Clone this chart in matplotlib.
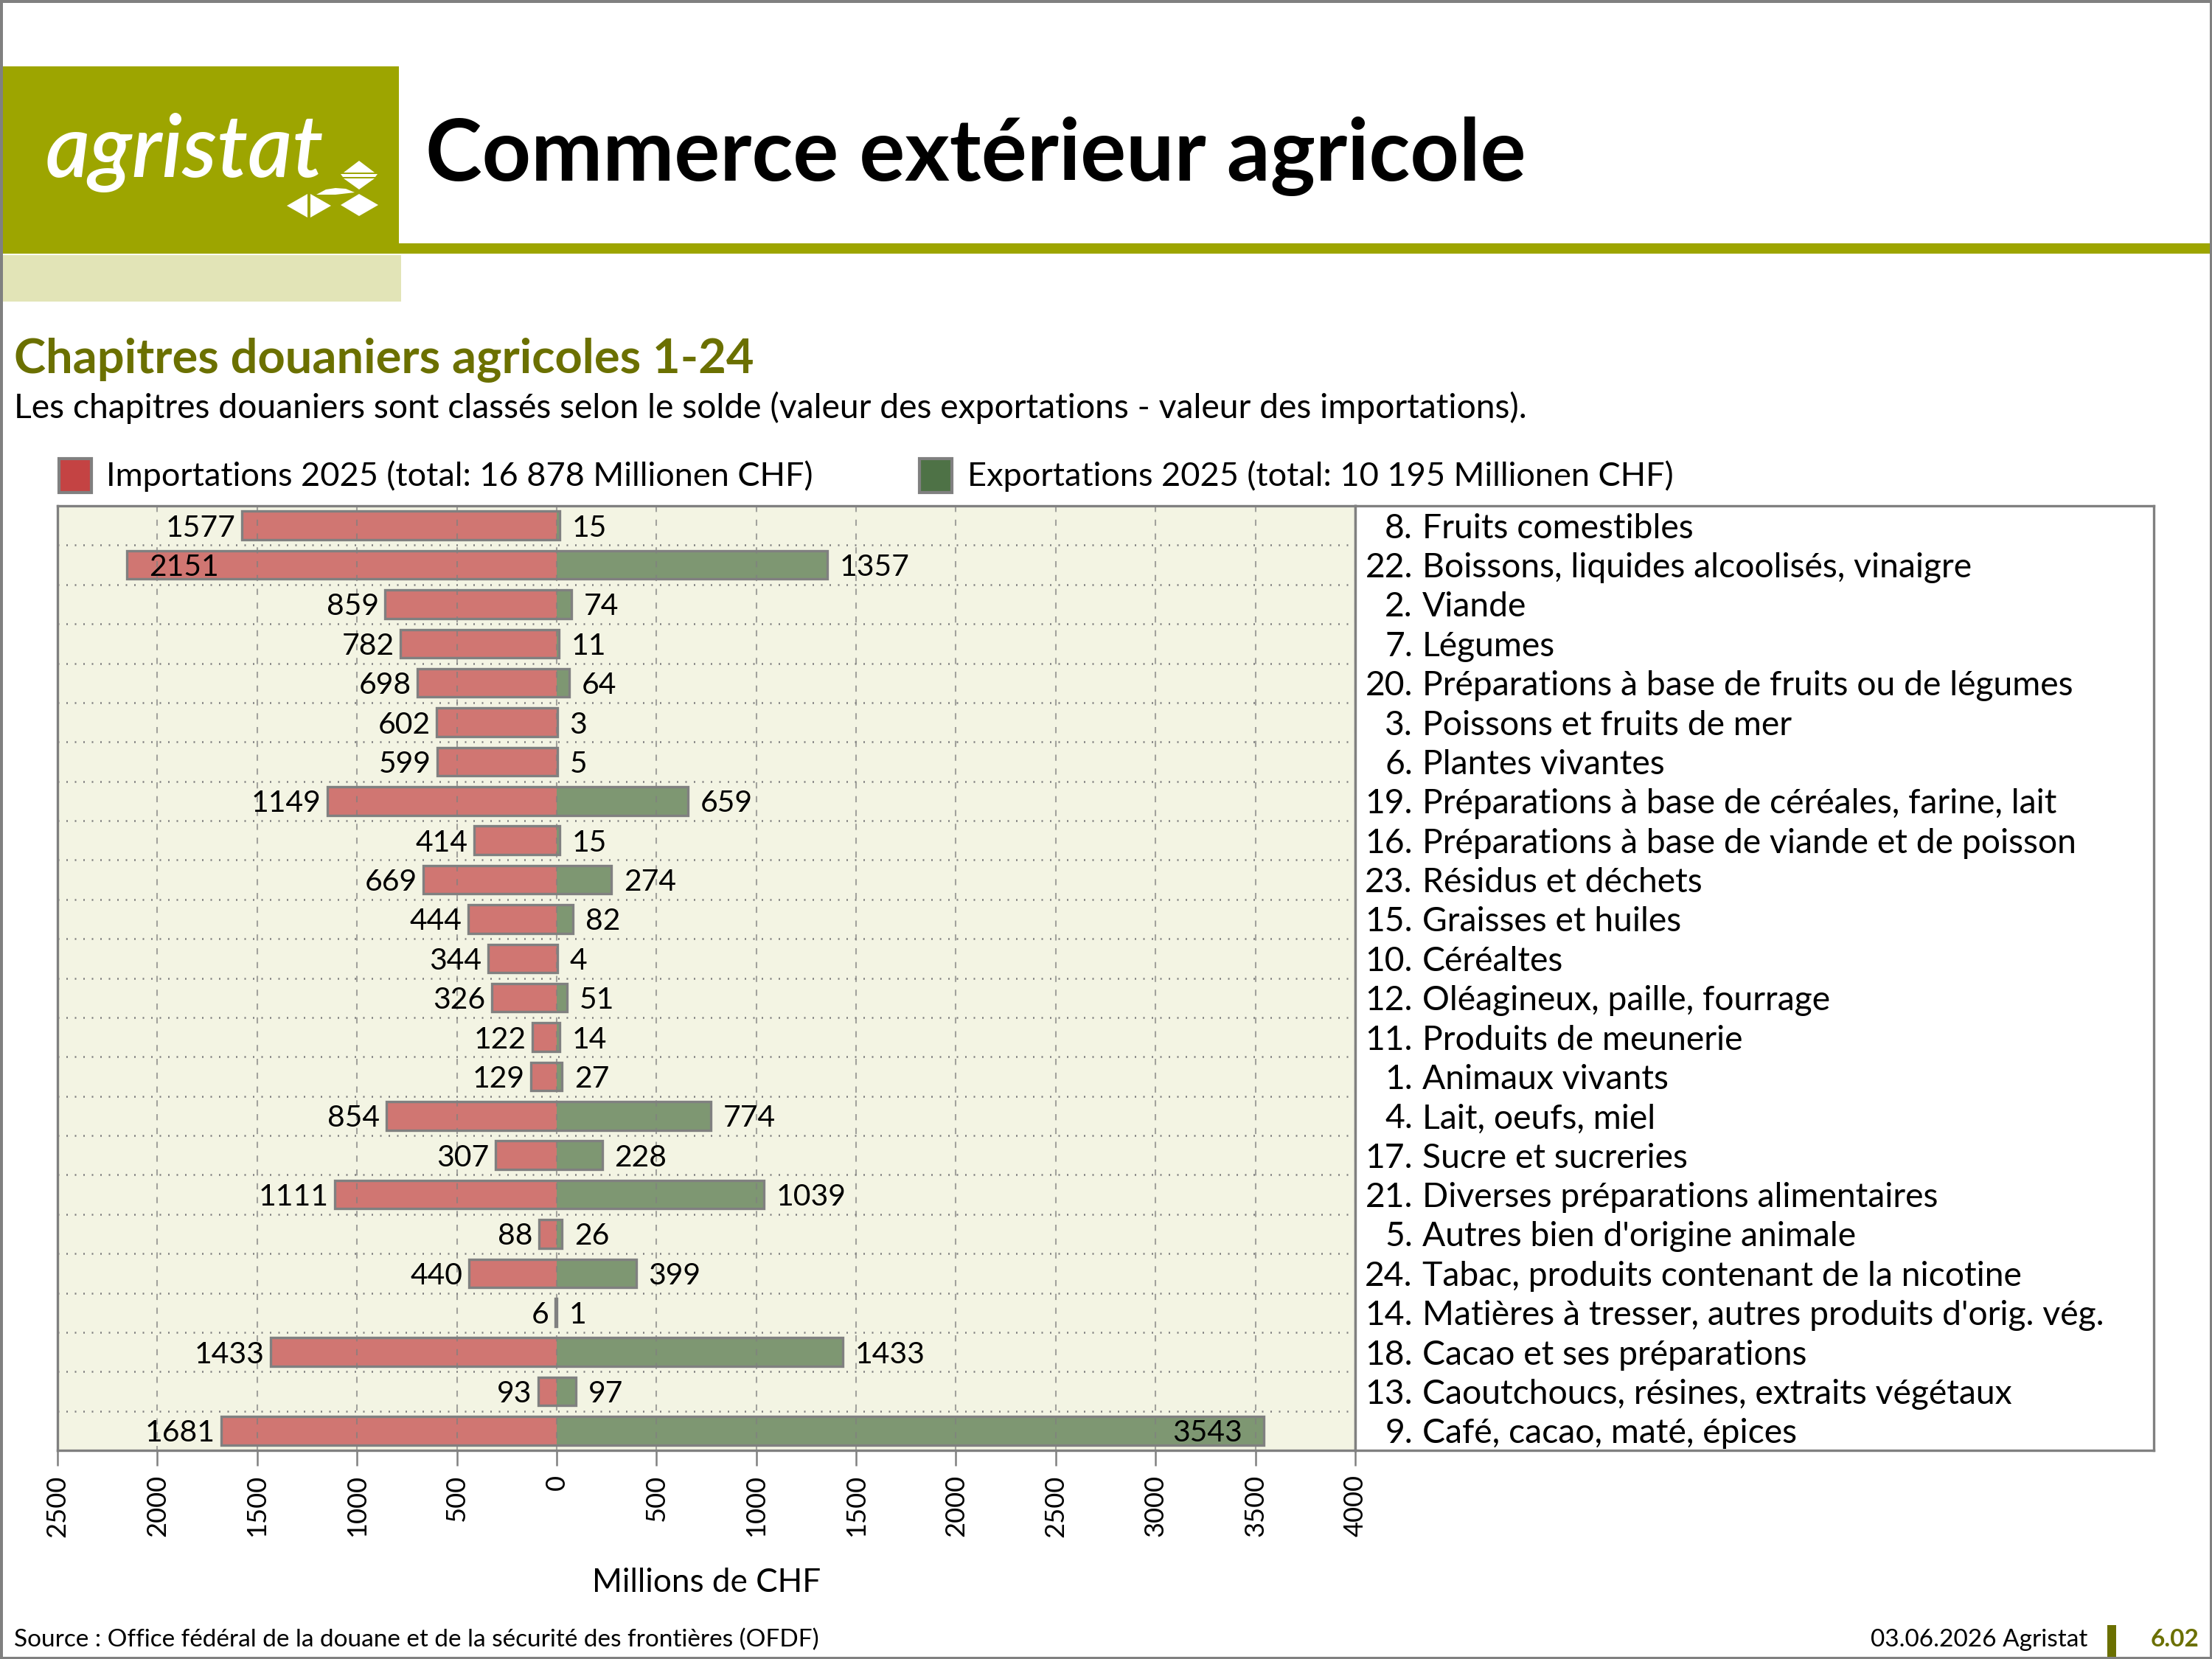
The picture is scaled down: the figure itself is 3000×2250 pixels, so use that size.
import numpy as np
import matplotlib
matplotlib.use("Agg")
import matplotlib.pyplot as plt
from matplotlib.patches import Rectangle, Polygon

plt.rcParams['font.family'] = ['Lato', 'DejaVu Sans']

# chapitres douaniers, classés selon le solde (du haut vers le bas)
chapitres = ["8", "22", "2", "7", "20", "3", "6", "19", "16", "23", "15", "10",
             "12", "11", "1", "4", "17", "21", "5", "24", "14", "18", "13", "9"]
noms = ["Fruits comestibles",
        "Boissons, liquides alcoolisés, vinaigre",
        "Viande",
        "Légumes",
        "Préparations à base de fruits ou de légumes",
        "Poissons et fruits de mer",
        "Plantes vivantes",
        "Préparations à base de céréales, farine, lait",
        "Préparations à base de viande et de poisson",
        "Résidus et déchets",
        "Graisses et huiles",
        "Céréaltes",
        "Oléagineux, paille, fourrage",
        "Produits de meunerie",
        "Animaux vivants",
        "Lait, oeufs, miel",
        "Sucre et sucreries",
        "Diverses préparations alimentaires",
        "Autres bien d'origine animale",
        "Tabac, produits contenant de la nicotine",
        "Matières à tresser, autres produits d'orig. vég.",
        "Cacao et ses préparations",
        "Caoutchoucs, résines, extraits végétaux",
        "Café, cacao, maté, épices"]
importations = [1577, 2151, 859, 782, 698, 602, 599, 1149, 414, 669, 444, 344,
                326, 122, 129, 854, 307, 1111, 88, 440, 6, 1433, 93, 1681]
exportations = [15, 1357, 74, 11, 64, 3, 5, 659, 15, 274, 82, 4,
                51, 14, 27, 774, 228, 1039, 26, 399, 1, 1433, 97, 3543]

x_ticks = list(range(-2500, 4001, 500))
x_ticklabels = [str(abs(v)) for v in x_ticks]

titre = "Commerce extérieur agricole"
sous_titre = "Chapitres douaniers agricoles 1-24"
description = ("Les chapitres douaniers sont classés selon le solde "
               "(valeur des exportations - valeur des importations).")
leg_imp = "Importations 2025 (total: 16 878 Millionen CHF)"
leg_exp = "Exportations 2025 (total: 10 195 Millionen CHF)"
source = "Source : Office fédéral de la douane et de la sécurité des frontières (OFDF)"

olive = '#9DA500'
olive_fonce = '#6B7000'
olive_clair = '#E2E4B7'
gris = '#808080'
rouge = '#C44343'
vert = '#4E7246'
rouge_barre = '#D07672'
vert_barre = '#7E9772'
creme = '#F3F4E3'

W, H = 3000, 2250
fig = plt.figure(figsize=(10, 7.5), dpi=300)

# fond / en-tete en coordonnees pixel
deco = fig.add_axes([0, 0, 1, 1])
deco.set_xlim(0, W)
deco.set_ylim(H, 0)
deco.axis('off')

deco.add_patch(Rectangle((0, 90), 541, 254, color=olive, lw=0))
deco.add_patch(Rectangle((541, 330), W - 541, 14, color=olive, lw=0))
deco.add_patch(Rectangle((0, 346), 544, 63, color=olive_clair, lw=0))
deco.text(62, 240, "agristat", color='white', fontsize=28, style='italic',
          fontweight='semibold', ha='left', va='baseline')
# petit logo
formes = [
    [(466, 234), (487, 218), (508, 234)],
    [(462, 236), (512, 236), (509, 240), (465, 240)],
    [(466, 242), (508, 242), (487, 257)],
    [(389, 279), (417, 263), (417, 295)],
    [(421, 263), (449, 279), (421, 295)],
    [(462, 278), (487, 263), (513, 278), (487, 293)],
    [(429, 264), (442, 257), (455, 255), (469, 256), (481, 261), (455, 264)],
]
for f in formes:
    deco.add_patch(Polygon(f, closed=True, color='white', lw=0))

deco.text(577, 245, titre, fontsize=27.8, fontweight='bold', color='black',
          ha='left', va='baseline')
deco.text(19, 506, sous_titre, fontsize=15.6, fontweight='bold', color=olive_fonce,
          ha='left', va='baseline')
deco.text(19, 567, description, fontsize=11.1, color='black', ha='left', va='baseline')

# legende
deco.add_patch(Rectangle((80, 622), 44, 46, facecolor=rouge, edgecolor=gris, lw=1))
deco.text(144, 659, leg_imp, fontsize=10.85, ha='left', va='baseline')
deco.add_patch(Rectangle((1247, 622), 44, 46, facecolor=vert, edgecolor=gris, lw=1))
deco.text(1312, 659, leg_exp, fontsize=10.85, ha='left', va='baseline')

# pied de page
deco.text(19, 2233, source, fontsize=8, ha='left', va='baseline')
deco.text(2831, 2233, "03.06.2026 Agristat", fontsize=8, ha='right', va='baseline')
deco.add_patch(Rectangle((2858, 2204), 12, 46, color=olive_fonce, lw=0))
deco.text(2917, 2233, "6.02", fontsize=8, fontweight='bold', color=olive_fonce,
          ha='left', va='baseline')
deco.add_patch(Rectangle((1, 1), W - 2, H - 2, fill=False, edgecolor=gris, lw=1.2))

# graphique principal
x0, x1, y0, y1 = 78, 1838, 686, 1967
ax = fig.add_axes([x0 / W, 1 - y1 / H, (x1 - x0) / W, (y1 - y0) / H])
ax.set_facecolor(creme)
n = len(noms)
y = np.arange(n)
imp = np.array(importations)
exp = np.array(exportations)
h = 0.72

ax.barh(y, -imp, height=h, color=rouge_barre, lw=0, zorder=2)
ax.barh(y, exp, height=h, color=vert_barre, lw=0, zorder=2)
ax.barh(y, imp + exp, left=-imp, height=h, fill=False, edgecolor=gris, lw=0.8, zorder=3)

ax.vlines(x_ticks, -0.5, n - 0.5, colors=gris, linestyles=(0, (4, 5)), lw=0.5,
          alpha=0.7, zorder=4)
ax.hlines(np.arange(n - 1) + 0.5, -2500, 4000, colors=gris, linestyles=(0, (0.8, 3.8)),
          lw=0.6, zorder=1)

for i in range(n):
    if imp[i] > 2000:
        ax.annotate(str(imp[i]), xy=(-imp[i], i), xytext=(7, 0), textcoords='offset points',
                    ha='left', va='center_baseline', fontsize=9.8, zorder=6)
    else:
        ax.annotate(str(imp[i]), xy=(-imp[i], i), xytext=(-2, 0), textcoords='offset points',
                    ha='right', va='center_baseline', fontsize=9.8, zorder=6)
    if exp[i] > 3000:
        ax.annotate(str(exp[i]), xy=(exp[i], i), xytext=(-7, 0), textcoords='offset points',
                    ha='right', va='center_baseline', fontsize=9.8, zorder=6)
    else:
        ax.annotate(str(exp[i]), xy=(exp[i], i), xytext=(4, 0), textcoords='offset points',
                    ha='left', va='center_baseline', fontsize=9.8, zorder=6)

ax.set_xlim(-2500, 4000)
ax.set_ylim(n - 0.5, -0.5)
ax.set_xticks(x_ticks)
ax.set_xticklabels(x_ticklabels)
ax.set_yticks([])
ax.tick_params(axis='x', direction='out', length=5, width=0.6, color=gris, pad=3,
               labelsize=8.7, labelrotation=90)
for s in ax.spines.values():
    s.set_color(gris)
    s.set_linewidth(0.8)
ax.set_xlabel("Millions de CHF", fontsize=10.6, labelpad=10)

# panneau des libelles
x2 = 2921
pan = fig.add_axes([x1 / W, 1 - y1 / H, (x2 - x1) / W, (y1 - y0) / H])
pan.set_facecolor('white')
pan.set_xlim(0, 1)
pan.set_ylim(n - 0.5, -0.5)
pan.set_xticks([])
pan.set_yticks([])
for s in pan.spines.values():
    s.set_color(gris)
    s.set_linewidth(0.8)
for i in range(n):
    pan.text(0.072, i, chapitres[i] + ".", fontsize=11.1, ha='right', va='center_baseline')
    pan.text(0.084, i, noms[i], fontsize=11.1, ha='left', va='center_baseline')

fig.savefig("out.png", dpi=300)
